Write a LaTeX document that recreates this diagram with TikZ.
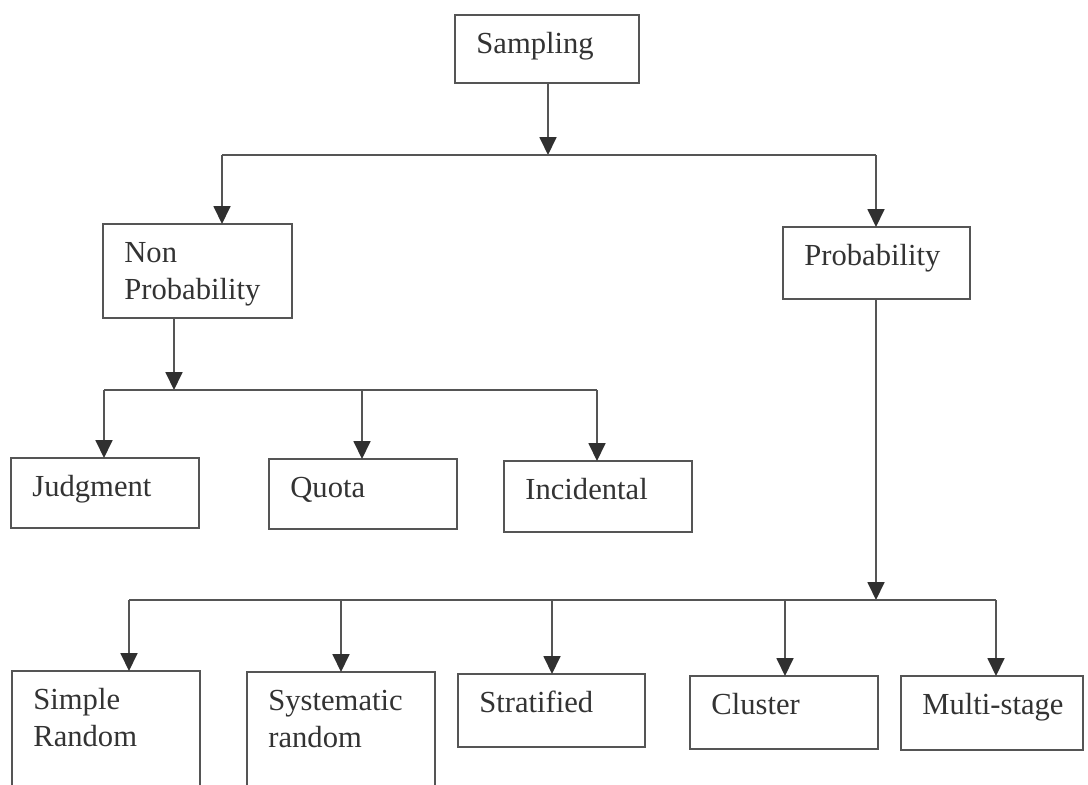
\documentclass[tikz,border=0pt]{standalone}
\usepackage{fontspec}
\setmainfont{Liberation Serif}
\usetikzlibrary{arrows.meta}
\definecolor{linec}{HTML}{555555}
\definecolor{arrowc}{HTML}{303030}
\definecolor{textc}{HTML}{333333}
\newcommand\mybox[6]{%
  \node[box, minimum width={(#4-#2)*0.5pt}, minimum height={(#5-#3)*0.5pt}] (#1) at (#2,#3) {};
  \node[lbl] (#1t) at ([xshift=10.5pt,yshift=-19pt]#1.north west) {#6};}
\newcommand\twol[2]{\begin{tabular}[t]{@{}l@{}}#1\\#2\end{tabular}}
\begin{document}
\begin{tikzpicture}[x=0.5pt,y=-0.5pt,
  box/.style={draw=linec, line width=1pt, rectangle, inner sep=0pt, outer sep=0pt, anchor=north west},
  lbl/.style={anchor=base west, inner sep=0pt, text=textc, font=\fontsize{15.3}{18.5}\selectfont},
  conn/.style={draw=linec, line width=0.9pt},
  arr/.style={conn, -{Triangle[length=9pt,width=8.5pt,color=arrowc]}}]
\useasboundingbox[fill=white] (0,0) rectangle (1088,784);
% boxes
\mybox{samp}{455}{15}{639}{83}{Sampling}
\mybox{nonp}{103}{224}{292}{318}{\twol{Non}{Probability}}
\mybox{prob}{783}{227}{970}{299}{Probability}
\mybox{judg}{11}{458}{199}{528}{Judgment}
\mybox{quota}{269}{459}{457}{529}{Quota}
\mybox{incid}{504}{461}{692}{532}{Incidental}
\mybox{simp}{12}{671}{200}{820}{\twol{Simple}{Random}}
\mybox{syst}{247}{672}{435}{820}{\twol{Systematic}{random}}
\mybox{strat}{458}{674}{645}{747}{Stratified}
\mybox{clus}{690}{676}{878}{749}{Cluster}
\mybox{multi}{901}{676}{1083}{750}{Multi-stage}
% level 1 bus
\coordinate (b1) at (548,155);
\coordinate (b1L) at (222,155);
\coordinate (b1R) at (876,155);
\draw[arr] (samp.south -| b1) -- (b1);
\draw[conn] (b1L) -- (b1R);
\draw[arr] (b1L) -- (b1L |- nonp.north);
\draw[arr] (b1R) -- (b1R |- prob.north);
% non probability bus
\coordinate (b2) at (174,390);
\coordinate (b2L) at (104,390);
\coordinate (b2M) at (362,390);
\coordinate (b2R) at (597,390);
\draw[arr] (nonp.south -| b2) -- (b2);
\draw[conn] (b2L) -- (b2R);
\draw[arr] (b2L) -- (b2L |- judg.north);
\draw[arr] (b2M) -- (b2M |- quota.north);
\draw[arr] (b2R) -- (b2R |- incid.north);
% probability bus
\coordinate (b3) at (876,600);
\coordinate (b3a) at (129,600);
\coordinate (b3b) at (341,600);
\coordinate (b3c) at (552,600);
\coordinate (b3d) at (785,600);
\coordinate (b3e) at (996,600);
\draw[arr] (prob.south -| b3) -- (b3);
\draw[conn] (b3a) -- (b3e);
\draw[arr] (b3a) -- (b3a |- simp.north);
\draw[arr] (b3b) -- (b3b |- syst.north);
\draw[arr] (b3c) -- (b3c |- strat.north);
\draw[arr] (b3d) -- (b3d |- clus.north);
\draw[arr] (b3e) -- (b3e |- multi.north);
\end{tikzpicture}
\end{document}
